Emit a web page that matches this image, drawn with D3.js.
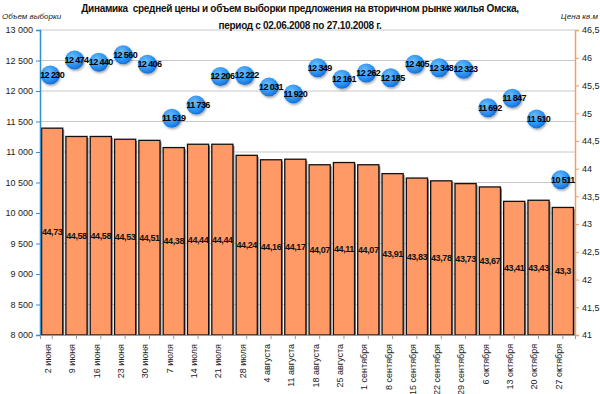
<!DOCTYPE html>
<html><head><meta charset="utf-8">
<script src="https://cdn.jsdelivr.net/npm/d3@7"></script>
<style>body{margin:0;background:#fff}svg{display:block;font-family:"Liberation Sans",Arial,sans-serif}</style>
</head><body><svg id="c" width="600" height="394"></svg>
<script>
const categories = ["2 июня","9 июня","16 июня","23 июня","30 июня","7 июля","14 июля","21 июля","28 июля","4 августа","11 августа","18 августа","25 августа","1 сентября","8 сентября","15 сентября","22 сентября","29 сентября","6 октября","13 октября","20 октября","27 октября"];
const priceValues = [44.73,44.58,44.58,44.53,44.51,44.38,44.44,44.44,44.24,44.16,44.17,44.07,44.11,44.07,43.91,43.83,43.78,43.73,43.67,43.41,43.43,43.3];
const sampleValues = [12230,12474,12440,12560,12406,11519,11736,12206,12222,12031,11920,12349,12161,12262,12185,12405,12348,12323,11692,11847,11510,10511];
const leftTicks = [8000,8500,9000,9500,10000,10500,11000,11500,12000,12500,13000];
const rightTicks = [41,41.5,42,42.5,43,43.5,44,44.5,45,45.5,46,46.5];
const titleLines = ["Динамика  средней цены и объем выборки предложения на вторичном рынке жилья Омска,","период с 02.06.2008 по 27.10.2008 г."];

const svg = d3.select("#c");
const L=40, R=575, T=30, B=335;
const x = d3.scaleBand().domain(categories).range([L,R]).paddingInner(0.13).paddingOuter(0.065);
const yL = d3.scaleLinear().domain([8000,13000]).range([B,T]);
const yR = d3.scaleLinear().domain([41,46.5]).range([B,T]);
const fmtSp = v => d3.format(",")(v).replace(/,/g," ");
const fmtC = v => String(v).replace(".",",");

const defs = svg.append("defs");
const g = defs.append("radialGradient").attr("id","bub").attr("cx","40%").attr("cy","35%").attr("r","65%");
g.append("stop").attr("offset","0%").attr("stop-color","#6cc0ff");
g.append("stop").attr("offset","70%").attr("stop-color","#2a8ff0");
g.append("stop").attr("offset","100%").attr("stop-color","#1a6fd0");
const f = defs.append("filter").attr("id","sh").attr("x","-50%").attr("y","-50%").attr("width","200%").attr("height","200%");
f.append("feDropShadow").attr("dx",1).attr("dy",1.5).attr("stdDeviation",1).attr("flood-color","#000").attr("flood-opacity",0.35);

// gridlines
svg.append("g").selectAll("line").data(leftTicks).join("line")
  .attr("x1",L).attr("x2",R).attr("y1",d=>yL(d)).attr("y2",d=>yL(d))
  .attr("stroke","#c8c8c8").attr("stroke-width",1);

// title
svg.append("g").selectAll("text").data(titleLines).join("text")
  .attr("x",300).attr("y",(d,i)=>12+i*17).attr("text-anchor","middle")
  .style("white-space","pre")
  .attr("font-size",10).attr("font-weight","bold").attr("letter-spacing","-0.3").attr("fill","#111").text(d=>d);
svg.append("text").attr("x",2).attr("y",19).attr("font-size",8).attr("font-style","italic").attr("fill","#222").text("Объем выборки");
svg.append("text").attr("x",598).attr("y",19).attr("text-anchor","end").attr("font-size",8).attr("font-style","italic").attr("fill","#222").text("Цена кв.м");

// bars
const bars = svg.append("g");
bars.selectAll("rect.sh").data(priceValues).join("rect")
  .attr("x",(d,i)=>x(categories[i])+1.5).attr("y",d=>yR(d)+1.5)
  .attr("width",x.bandwidth()).attr("height",d=>B-yR(d)-1.5).attr("fill","#888");
bars.selectAll("rect.b").data(priceValues).join("rect")
  .attr("x",(d,i)=>x(categories[i])).attr("y",d=>yR(d))
  .attr("width",x.bandwidth()).attr("height",d=>B-yR(d))
  .attr("fill","#ff9966").attr("stroke","#111").attr("stroke-width",1.3);
bars.selectAll("text").data(priceValues).join("text")
  .attr("x",(d,i)=>x(categories[i])+x.bandwidth()/2).attr("y",d=>(yR(d)+B)/2+3)
  .attr("text-anchor","middle").attr("font-size",9).attr("font-weight","bold").attr("letter-spacing","-0.4")
  .attr("fill","#111").text(d=>fmtC(d));

// axes
const aL = svg.append("g").attr("transform",`translate(${L},0)`)
  .call(d3.axisLeft(yL).tickValues(leftTicks).tickFormat(fmtSp).tickSize(4));
aL.select(".domain").attr("stroke","#2f8fd0").attr("stroke-width",1.5);
aL.selectAll(".tick line").attr("stroke","#2f8fd0");
aL.selectAll("text").attr("font-size",9).attr("fill","#222").attr("font-family","Liberation Sans, Arial");

const aR = svg.append("g").attr("transform",`translate(${R},0)`)
  .call(d3.axisRight(yR).tickValues(rightTicks).tickFormat(fmtC).tickSize(4));
aR.select(".domain").attr("stroke","#f0a060").attr("stroke-width",1.5);
aR.selectAll(".tick line").attr("stroke","#f0a060");
aR.selectAll("text").attr("font-size",9).attr("fill","#222").attr("font-family","Liberation Sans, Arial");

const aB = svg.append("g").attr("transform",`translate(0,${B})`)
  .call(d3.axisBottom(x).tickSize(4));
aB.select(".domain").attr("stroke","#999");
aB.selectAll(".tick line").attr("stroke","#999");
aB.selectAll("text").attr("font-size",9).attr("fill","#222").attr("font-family","Liberation Sans, Arial")
  .attr("text-anchor","end").attr("transform","rotate(-90)").attr("x",-9).attr("y",-4).attr("dy","0.32em");

// bubbles
const bub = svg.append("g");
bub.selectAll("circle").data(sampleValues).join("circle")
  .attr("cx",(d,i)=>x(categories[i])+x.bandwidth()/2-2).attr("cy",d=>yL(d)-2)
  .attr("r",9.5).attr("fill","url(#bub)").attr("filter","url(#sh)");
bub.selectAll("text").data(sampleValues).join("text")
  .attr("x",(d,i)=>x(categories[i])+x.bandwidth()/2).attr("y",d=>yL(d)+1)
  .attr("text-anchor","middle").attr("font-size",9).attr("font-weight","bold").attr("letter-spacing","-0.6")
  .attr("fill","#000").text(d=>fmtSp(d));
</script></body></html>
